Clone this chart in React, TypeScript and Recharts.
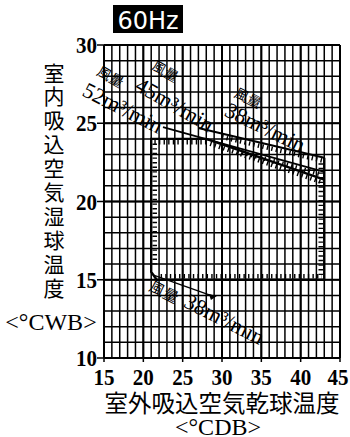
import React from 'react';
import {
  ComposedChart,
  Line,
  XAxis,
  YAxis,
  CartesianGrid,
  ReferenceLine,
  ReferenceDot
} from 'recharts';

// grid every 1 deg, labels every 5
const xTicks = Array.from({ length: 31 }, (_, i) => 15 + i);
const yTicks = Array.from({ length: 21 }, (_, i) => 10 + i);
const xMajor = [15, 20, 25, 30, 35, 40, 45];
const yMajor = [10, 15, 20, 25, 30];

// operating range outline (°CDB, °CWB)
const outline = [
  { x: 28, y: 24 },
  { x: 21, y: 24 },
  { x: 21, y: 15.5 },
  { x: 21.7, y: 15 },
  { x: 43, y: 15 },
  { x: 43, y: 22.8 }
];
const hatchTop = [
  { x: 21.4, y: 23.78 },
  { x: 28, y: 23.78 }
];
const hatchLeft = [
  { x: 21.45, y: 23.7 },
  { x: 21.45, y: 15.8 }
];
const hatchBottom = [
  { x: 22.2, y: 15.22 },
  { x: 42.7, y: 15.22 }
];
const hatchRight = [
  { x: 42.55, y: 15.3 },
  { x: 42.55, y: 22.6 }
];

// upper limit lines per air flow
const flowUpper = [
  { x: 27, y: 24.7 },
  { x: 43, y: 22.8 }
];
const flowMiddle = [
  { x: 22.5, y: 24.75 },
  { x: 43, y: 21.9 }
];
const flowLower = [
  { x: 28, y: 24 },
  { x: 43, y: 21.4 }
];
const hatchUpper = [
  { x: 30, y: 24.12 },
  { x: 42.7, y: 22.62 }
];
const hatchMiddle = [
  { x: 32, y: 23.21 },
  { x: 42.7, y: 21.72 }
];
const hatchLower = [
  { x: 28.5, y: 23.69 },
  { x: 42.7, y: 21.23 }
];

// leader to the lower-left corner
const leader = [
  { x: 21.3, y: 15.3 },
  { x: 29.1, y: 13.9 }
];

const notes = [
  { x: 15.8, y: 27.95, text: '風量', angle: 30, size: 14, cjk: true },
  { x: 17.4, y: 26.0, text: '52m³/min', angle: 27, size: 22, cjk: false },
  { x: 22.75, y: 28.3, text: '風量', angle: 30, size: 14, cjk: true },
  { x: 24.0, y: 26.2, text: '45m³/min', angle: 30, size: 22, cjk: false },
  { x: 33.3, y: 26.6, text: '風量', angle: 27, size: 14, cjk: true },
  { x: 35.5, y: 24.75, text: '38m³/min', angle: 26, size: 22, cjk: false },
  { x: 22.6, y: 14.2, text: '風量', angle: 27, size: 15, cjk: true },
  { x: 30.3, y: 12.5, text: '38m³/min', angle: 27, size: 22, cjk: false }
];

const yTitle = '室内吸込空気湿球温度'.split('');

const serif = '"Liberation Serif", "DejaVu Serif", serif';
const cjk = '"Noto Sans CJK JP", sans-serif';
const ink = '#000';

const XTick = ({ x, y, payload }: any) => {
  if (payload.value % 5 !== 0) return <g />;
  const tx = Math.min(x, 338);
  return (
    <g>
      <line x1={x} x2={x} y1={y} y2={y + 4} stroke={ink} strokeWidth={1.5} />
      <text
        x={tx}
        y={y + 27}
        textAnchor="middle"
        fontFamily={serif}
        fontSize={24}
        fontWeight="bold"
        textLength={21}
        lengthAdjust="spacingAndGlyphs"
        fill={ink}
      >
        {payload.value}
      </text>
    </g>
  );
};

const YTick = ({ x, y, payload }: any) => {
  if (payload.value % 5 !== 0) return <g />;
  return (
    <g>
      <line x1={x - 7} x2={x} y1={y} y2={y} stroke={ink} strokeWidth={1.5} />
      <text
        x={x - 28}
        y={y + 8}
        fontFamily={serif}
        fontSize={24}
        fontWeight="bold"
        textLength={21}
        lengthAdjust="spacingAndGlyphs"
        fill={ink}
      >
        {payload.value}
      </text>
    </g>
  );
};

const Arrow = (props: any) => {
  const { cx, cy, index } = props;
  if (index !== leader.length - 1) return <g key={index} />;
  return (
    <polygon
      key={index}
      points={`${cx + 2},${cy - 1} ${cx - 6},${cy - 3} ${cx - 4},${cy + 3}`}
      fill={ink}
    />
  );
};

const noteLabel = (n: any) => (props: any) => {
  const vb = props.viewBox || {};
  const cx = vb.x + (vb.width || 0) / 2;
  const cy = vb.y + (vb.height || 0) / 2;
  return (
    <text
      x={cx}
      y={cy}
      dy="0.35em"
      textAnchor="middle"
      transform={`rotate(${n.angle} ${cx} ${cy})`}
      fontFamily={n.cjk ? cjk : serif}
      fontSize={n.size}
      fill={ink}
    >
      {n.text}
    </text>
  );
};

const plain = (data: any[], w: number, key: string) => (
  <Line
    key={key}
    data={data}
    dataKey="y"
    type="linear"
    stroke={ink}
    strokeWidth={w}
    dot={false}
    activeDot={false}
    isAnimationActive={false}
  />
);

const hatch = (data: any[], key: string) => (
  <Line
    key={key}
    data={data}
    dataKey="y"
    type="linear"
    stroke={ink}
    strokeWidth={4.5}
    strokeDasharray="1.4 3.2"
    dot={false}
    activeDot={false}
    isAnimationActive={false}
  />
);

export default function App() {
  return (
    <div style={{ position: 'absolute', left: 0, top: 0, width: 350, height: 437, background: '#fff' }}>
      <ComposedChart width={350} height={437} margin={{ top: 45, right: 10, left: 64, bottom: 49 }}>
        <CartesianGrid stroke="#000" strokeWidth={1.5} />
        <XAxis
          type="number"
          dataKey="x"
          domain={[15, 45]}
          ticks={xTicks}
          interval={0}
          height={30}
          tickSize={0}
          tickMargin={0}
          tickLine={false}
          axisLine={{ stroke: ink, strokeWidth: 2 }}
          tick={<XTick />}
          allowDataOverflow
        />
        <YAxis
          type="number"
          domain={[10, 30]}
          ticks={yTicks}
          interval={0}
          width={40}
          tickSize={0}
          tickMargin={0}
          tickLine={false}
          axisLine={{ stroke: ink, strokeWidth: 2 }}
          tick={<YTick />}
          allowDataOverflow
        />
        {xMajor.map((v) => (
          <ReferenceLine key={'vx' + v} x={v} stroke={ink} strokeWidth={2} />
        ))}
        {yMajor.map((v) => (
          <ReferenceLine key={'hy' + v} y={v} stroke={ink} strokeWidth={2} />
        ))}
        {plain(outline, 2.4, 'outline')}
        {hatch(hatchTop, 'ht')}
        {hatch(hatchLeft, 'hl')}
        {hatch(hatchBottom, 'hb')}
        {hatch(hatchRight, 'hr')}
        {plain(flowUpper, 2, 'fu')}
        {plain(flowMiddle, 1.8, 'fm')}
        {plain(flowLower, 2.2, 'fl')}
        {hatch(hatchUpper, 'hu')}
        {hatch(hatchMiddle, 'hm')}
        {hatch(hatchLower, 'hlo')}
        <Line
          data={leader}
          dataKey="y"
          type="linear"
          stroke={ink}
          strokeWidth={1.3}
          dot={<Arrow />}
          activeDot={false}
          isAnimationActive={false}
        />
        {notes.map((n, i) => (
          <ReferenceDot
            key={'n' + i}
            x={n.x}
            y={n.y}
            r={0}
            fill="none"
            stroke="none"
            ifOverflow="visible"
            label={{ content: noteLabel(n) }}
          />
        ))}
      </ComposedChart>

      <svg
        width={350}
        height={437}
        style={{ position: 'absolute', left: 0, top: 0, pointerEvents: 'none' }}
      >
        <rect x={113} y={5} width={70} height={28} fill="#000" />
        <text x={148} y={20} dy="0.36em" textAnchor="middle" fontFamily="'DejaVu Sans', sans-serif" fontSize={24} fill="#fff">
          60Hz
        </text>
        {yTitle.map((c, i) => (
          <text key={i} x={54} y={73 + i * 23.9} dy="0.36em" textAnchor="middle" fontFamily={cjk} fontSize={21} fill={ink}>
            {c}
          </text>
        ))}
        <text x={51} y={322} dy="0.35em" textAnchor="middle" fontFamily={serif} fontSize={24} fill={ink}>
          {'<°CWB>'}
        </text>
        <text x={222} y={404} dy="0.36em" textAnchor="middle" fontFamily={cjk} fontSize={23.5} fill={ink}>
          室外吸込空気乾球温度
        </text>
        <text x={218} y={427} dy="0.35em" textAnchor="middle" fontFamily={serif} fontSize={24} fill={ink}>
          {'<°CDB>'}
        </text>
      </svg>
    </div>
  );
}
